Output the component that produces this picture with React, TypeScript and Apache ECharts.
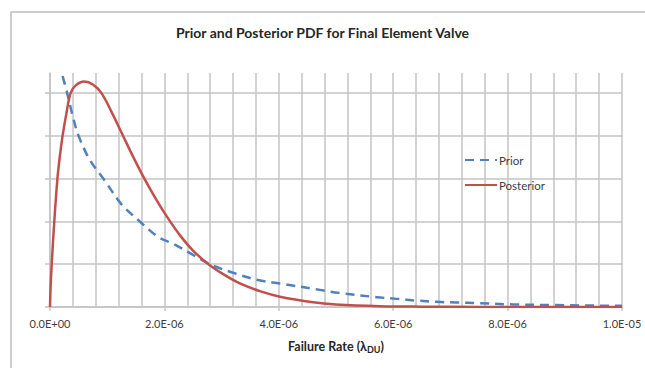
import React, { useEffect, useRef } from "react";
import * as echarts from "echarts";

// Failure rate (in units of 1e-6 per hour) and PDF values (grid units)
const priorLambda = [0.22, 0.3, 0.4, 0.5, 0.7, 0.95, 1.25, 1.57, 1.9, 2.15, 2.5, 2.8, 3.2, 3.64, 4.02, 4.72, 5.05, 5.71, 6.06, 6.41, 6.76, 7.11, 7.46, 8.1, 8.8, 9.85, 10];
const priorPdf = [5.4, 5.0, 4.45, 4.0, 3.43, 2.97, 2.4, 2.0, 1.63, 1.48, 1.22, 1.0, 0.8, 0.63, 0.55, 0.4, 0.33, 0.23, 0.19, 0.15, 0.12, 0.105, 0.09, 0.06, 0.045, 0.03, 0.03];

const postLambda = [0, 0.01, 0.03, 0.075, 0.13, 0.17, 0.22, 0.29, 0.36, 0.45, 0.6, 0.75, 0.9, 1.08, 1.26, 1.45, 1.65, 1.85, 2.05, 2.27, 2.5, 2.77, 3.05, 3.32, 3.67, 4.02, 4.6, 5.0, 5.77, 6.5, 7.5, 10];
const postPdf = [0, 0.45, 1.0, 2.0, 3.0, 3.5, 4.0, 4.55, 5.0, 5.18, 5.27, 5.2, 5.0, 4.55, 4.05, 3.52, 3.0, 2.53, 2.1, 1.68, 1.32, 1.0, 0.75, 0.55, 0.37, 0.24, 0.11, 0.06, 0.02, 0.008, 0.002, 0];

const seriesNames = ["Prior", "Posterior"];
const xTickStep = 2e-6;
const gridValues = [0, 1, 2, 3, 4, 5];

const MICRO = 1e-6;

function fmtSci(v: number): string {
  const s = v.toExponential(1);
  const [m, e] = s.split("e");
  const n = parseInt(e, 10);
  const sign = n < 0 ? "-" : "+";
  return m + "E" + sign + String(Math.abs(n)).padStart(2, "0");
}

export default function App() {
  const ref = useRef<HTMLDivElement>(null);
  useEffect(() => {
    if (!ref.current) return;
    const chart = echarts.init(ref.current, null, { renderer: "svg" });
    const gridColor = "#c4c4c4";
    chart.setOption({
      animation: false,
      backgroundColor: "#ffffff",
      title: {
        text: "Prior and Posterior PDF for Final Element Valve",
        left: "center",
        top: 20,
        textStyle: { fontFamily: "Lato", fontWeight: "bold", fontSize: 14, color: "#262626" },
      },
      graphic: [
        {
          type: "rect",
          shape: { x: 11, y: 12, width: 700, height: 400 },
          style: { fill: "none", stroke: "#bdbdbd", lineWidth: 1.5 },
          silent: true,
        },
      ],
      legend: {
        orient: "vertical",
        left: 459,
        top: 149,
        itemWidth: 32,
        itemHeight: 12,
        itemGap: 13,
        data: seriesNames,
        itemStyle: { opacity: 0 },
        textStyle: { fontFamily: "Lato", fontSize: 11.5, color: "#404040", padding: [0, 0, 0, -3] },
      },
      grid: { left: 50, right: 23, top: 73, bottom: 61 },
      xAxis: {
        type: "value",
        min: 0,
        max: 1e-5,
        interval: xTickStep,
        name: "Failure Rate (λ{sub|DU})",
        nameLocation: "middle",
        nameGap: 31,
        nameTextStyle: {
          fontFamily: "Lato",
          fontWeight: "bold",
          fontSize: 12.5,
          color: "#262626",
          rich: {
            sub: { fontFamily: "Lato", fontWeight: "bold", fontSize: 9, color: "#262626", verticalAlign: "bottom", padding: [7, 0, 0, 0] },
          },
        },
        axisLine: { show: true, lineStyle: { color: gridColor, width: 1.5 } },
        axisTick: { show: true, length: 4, lineStyle: { color: gridColor, width: 1.5 } },
        minorTick: { show: false, splitNumber: 5 },
        splitLine: { show: true, lineStyle: { color: gridColor, width: 1.5 } },
        minorSplitLine: { show: true, lineStyle: { color: gridColor, width: 1.5 } },
        axisLabel: {
          margin: 11,
          fontFamily: "Lato",
          fontSize: 11,
          color: "#404040",
          formatter: (v: number) => fmtSci(v),
        },
      },
      yAxis: {
        type: "value",
        min: 0,
        max: 5.47,
        axisLine: { show: true, lineStyle: { color: gridColor, width: 1.5 } },
        axisTick: { show: true, length: 5, customValues: gridValues, lineStyle: { color: gridColor, width: 1.5 } },
        axisLabel: { show: false, customValues: gridValues },
        splitLine: { show: true, lineStyle: { color: gridColor, width: 1.5 } },
      },
      series: [
        {
          name: seriesNames[0],
          type: "line",
          symbol: "none",
          smooth: 0.35,
          lineStyle: { color: "#4f81bd", width: 2.5, type: [9, 6] },
          itemStyle: { color: "#4f81bd" },
          data: priorLambda.map((l, i) => [l * MICRO, priorPdf[i]]),
          z: 3,
        },
        {
          name: seriesNames[1],
          type: "line",
          symbol: "none",
          smooth: 0.35,
          lineStyle: { color: "#c0504d", width: 2.5 },
          itemStyle: { color: "#c0504d" },
          data: postLambda.map((l, i) => [l * MICRO, postPdf[i]]),
          z: 4,
        },
      ],
    });
    return () => chart.dispose();
  }, []);
  return <div ref={ref} style={{ position: "fixed", left: 0, top: 0, width: 645, height: 368 }} />;
}
